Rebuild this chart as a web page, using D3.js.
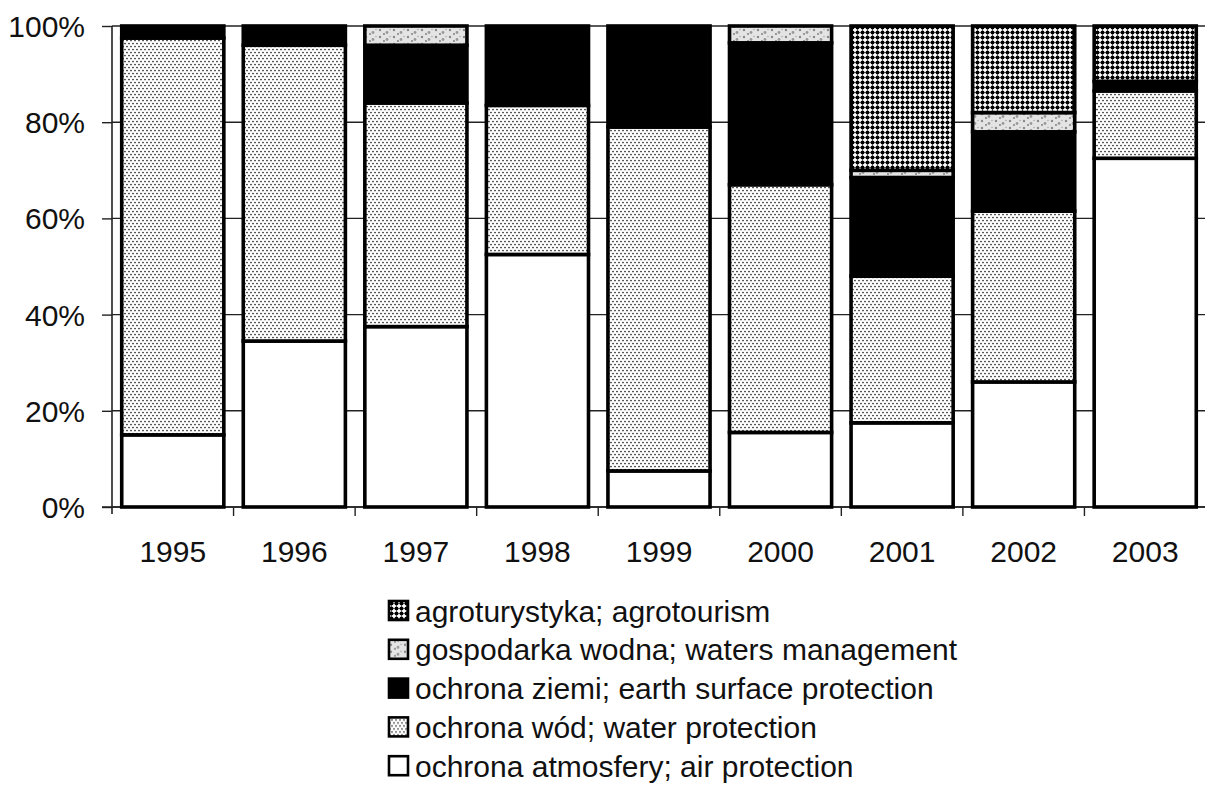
<!DOCTYPE html>
<html>
<head>
<meta charset="utf-8">
<script src="https://cdn.jsdelivr.net/npm/d3@7"></script>
<style>
  body { margin: 0; background: #fff; }
  svg text { font-family: "Liberation Sans", Arial, sans-serif; fill: #111; }
</style>
</head>
<body>
<div id="chart"></div>
<script>
'use strict';

var years = ['1995', '1996', '1997', '1998', '1999', '2000', '2001', '2002', '2003'];
var air = [15, 34.5, 37.5, 52.5, 7.5, 15.5, 17.5, 26, 72.5];
var water = [82.5, 61.5, 46.5, 31, 71.5, 51.5, 30.5, 35.5, 14];
var earth = [2.5, 4, 12, 16.5, 21, 29.5, 20.5, 16.5, 2];
var watersMgmt = [0, 0, 4, 0, 0, 3.5, 1.5, 4, 0];
var agro = [0, 0, 0, 0, 0, 0, 30, 18, 11.5];
var yTicks = [0, 0.2, 0.4, 0.6, 0.8, 1];

// stacking order, bottom to top
var seriesKeys = ['air', 'water', 'earth', 'watersMgmt', 'agro'];
var legendKeys = ['agro', 'watersMgmt', 'earth', 'water', 'air'];
var labels = {
  agro: 'agroturystyka; agrotourism',
  watersMgmt: 'gospodarka wodna; waters management',
  earth: 'ochrona ziemi; earth surface protection',
  water: 'ochrona wód; water protection',
  air: 'ochrona atmosfery; air protection'
};
var fills = {
  agro: 'url(#pAgro)',
  watersMgmt: 'url(#pMgmt)',
  earth: '#000',
  water: 'url(#pWater)',
  air: '#fff'
};

var rows = years.map(function (y, i) {
  return { year: y, air: air[i], water: water[i], earth: earth[i], watersMgmt: watersMgmt[i], agro: agro[i] };
});

var width = 1205;
var height = 786;
var plotLeft = 112;
var plotRight = 1206;
var plotTop = 26;
var plotBottom = 507;

var svg = d3.select('#chart').append('svg')
  .attr('width', width)
  .attr('height', height);

// patterns
var defs = svg.append('defs');

var pw = defs.append('pattern').attr('id', 'pWater')
  .attr('patternUnits', 'userSpaceOnUse').attr('width', 4).attr('height', 6);
pw.append('rect').attr('width', 4).attr('height', 6).attr('fill', '#fff');
pw.append('circle').attr('cx', 1).attr('cy', 1.5).attr('r', 0.85).attr('fill', '#222');
pw.append('circle').attr('cx', 3).attr('cy', 4.5).attr('r', 0.85).attr('fill', '#222');

var pa = defs.append('pattern').attr('id', 'pAgro')
  .attr('patternUnits', 'userSpaceOnUse').attr('width', 5).attr('height', 5);
pa.append('rect').attr('width', 5).attr('height', 5).attr('fill', '#fff');
pa.append('rect').attr('x', 0.7).attr('y', 0.7).attr('width', 3.6).attr('height', 3.6)
  .attr('rx', 1.3).attr('fill', '#000');
pa.append('rect').attr('x', 0).attr('y', 2.2).attr('width', 5).attr('height', 0.6).attr('fill', '#000');
pa.append('rect').attr('x', 2.2).attr('y', 0).attr('width', 0.6).attr('height', 5).attr('fill', '#000');

var pm = defs.append('pattern').attr('id', 'pMgmt')
  .attr('patternUnits', 'userSpaceOnUse').attr('width', 14).attr('height', 7);
pm.append('rect').attr('width', 14).attr('height', 7).attr('fill', '#e4e4e4');
pm.append('circle').attr('cx', 2).attr('cy', 2).attr('r', 1.2).attr('fill', '#888');
pm.append('circle').attr('cx', 9).attr('cy', 4.5).attr('r', 1.4).attr('fill', '#999');
pm.append('circle').attr('cx', 6).attr('cy', 6).attr('r', 0.9).attr('fill', '#777');
pm.append('circle').attr('cx', 12).attr('cy', 1.5).attr('r', 0.8).attr('fill', '#aaa');

var x = d3.scaleBand()
  .domain(years)
  .range([plotLeft, plotRight])
  .paddingInner(0.16)
  .paddingOuter(0.08);

var y = d3.scaleLinear()
  .domain([0, 100])
  .range([plotBottom, plotTop]);

var yPct = d3.scaleLinear()
  .domain([0, 1])
  .range([plotBottom, plotTop]);

// gridlines
svg.append('g')
  .selectAll('line')
  .data(yTicks)
  .enter()
  .append('line')
  .attr('x1', plotLeft)
  .attr('x2', width)
  .attr('y1', function (d) { return yPct(d); })
  .attr('y2', function (d) { return yPct(d); })
  .attr('stroke', '#222')
  .attr('stroke-width', 1.4);

// y axis
var yAxis = svg.append('g')
  .attr('transform', 'translate(' + plotLeft + ',0)')
  .call(d3.axisLeft(yPct).tickValues(yTicks).tickFormat(d3.format('.0%')).tickSize(10).tickPadding(17));
yAxis.select('.domain').remove();
yAxis.selectAll('.tick line').attr('stroke', '#222').attr('stroke-width', 1.4);
yAxis.selectAll('text').style('font-size', '30px').attr('dy', '0.35em');
svg.append('line')
  .attr('x1', plotLeft).attr('x2', plotLeft)
  .attr('y1', plotTop).attr('y2', plotBottom + 7)
  .attr('stroke', '#222').attr('stroke-width', 1.6);

// x axis
var xAxis = svg.append('g')
  .attr('transform', 'translate(0,' + plotBottom + ')')
  .call(d3.axisBottom(x).tickSize(0).tickPadding(34));
xAxis.select('.domain').remove();
xAxis.selectAll('text').style('font-size', '30px');

svg.append('line')
  .attr('x1', plotLeft - 10).attr('x2', width)
  .attr('y1', plotBottom).attr('y2', plotBottom)
  .attr('stroke', '#222').attr('stroke-width', 1.6);

svg.append('g')
  .selectAll('line')
  .data(years.slice(1))
  .enter()
  .append('line')
  .attr('x1', function (d) { return x(d) - x.step() * x.paddingInner() / 2; })
  .attr('x2', function (d) { return x(d) - x.step() * x.paddingInner() / 2; })
  .attr('y1', plotBottom)
  .attr('y2', plotBottom + 9)
  .attr('stroke', '#222')
  .attr('stroke-width', 1.4);

// stacked bars
var stack = d3.stack().keys(seriesKeys);
var layers = stack(rows);

svg.append('g')
  .selectAll('g')
  .data(layers)
  .enter()
  .append('g')
  .attr('fill', function (d) { return fills[d.key]; })
  .selectAll('rect')
  .data(function (d) { return d.filter(function (s) { return s[1] - s[0] > 0; }); })
  .enter()
  .append('rect')
  .attr('x', function (d) { return x(d.data.year); })
  .attr('y', function (d) { return y(d[1]); })
  .attr('width', x.bandwidth())
  .attr('height', function (d) { return y(d[0]) - y(d[1]); })
  .attr('stroke', '#000')
  .attr('stroke-width', 3.6);

// legend
var legend = svg.append('g')
  .selectAll('g')
  .data(legendKeys)
  .enter()
  .append('g')
  .attr('transform', function (d, i) { return 'translate(389,' + (611 + i * 38.8) + ')'; });

legend.append('rect')
  .attr('x', 0)
  .attr('y', -10)
  .attr('width', 19)
  .attr('height', 19)
  .attr('fill', function (d) { return fills[d]; })
  .attr('stroke', '#000')
  .attr('stroke-width', 2.6);

legend.append('text')
  .attr('x', 26)
  .attr('y', 0)
  .attr('dy', '0.35em')
  .style('font-size', '30px')
  .text(function (d) { return labels[d]; });
</script>
</body>
</html>
